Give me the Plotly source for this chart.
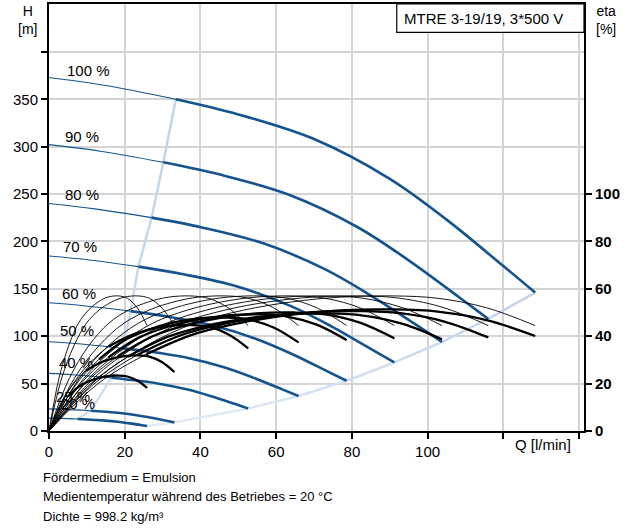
import plotly.graph_objects as go

# ---------------- data ----------------
speeds = ["100 %", "90 %", "80 %", "70 %", "60 %", "50 %", "40 %", "25 %", "20 %"]

# Q-H curves (Q [l/min], H [m]); the 3rd point of each list is the min-flow point
qh_q = {
    "100 %": [0, 15, 33.5, 50, 70, 90, 105, 120, 128.4],
    "90 %": [0, 13.5, 30.2, 45.2, 63.2, 81.3, 94.8, 108.4, 116.0],
    "80 %": [0, 12.1, 27.1, 40.4, 56.6, 72.7, 84.8, 97.0, 103.8],
    "70 %": [0, 10.7, 23.6, 35.5, 49.7, 63.9, 74.6, 85.2, 91.2],
    "60 %": [0, 9.2, 21.6, 30.6, 42.8, 55.1, 64.3, 73.4, 78.6],
    "50 %": [0, 7.7, 19.5, 25.7, 35.9, 46.2, 53.9, 61.6, 65.9],
    "40 %": [0, 6.2, 16.5, 20.5, 28.7, 36.9, 43.1, 49.2, 52.6],
    "25 %": [0, 3.9, 11.0, 12.9, 18.1, 23.2, 27.1, 31.0, 33.1],
    "20 %": [0, 3.0, 7.5, 10.1, 14.1, 18.2, 21.2, 24.2, 25.9],
}
qh_h = {
    "100 %": [373, 364.5, 350, 334, 308, 266, 223, 174, 146],
    "90 %": [302.1, 295.2, 283.5, 270.5, 249.5, 215.5, 180.6, 140.9, 118.3],
    "80 %": [240, 234.4, 225.1, 214.8, 198.0, 171.0, 143.4, 111.9, 93.9],
    "70 %": [184.6, 180.4, 173.4, 165.3, 152.5, 131.7, 110.4, 86.1, 72.3],
    "60 %": [135.3, 132.2, 126.5, 121.2, 111.8, 96.6, 81.0, 63.2, 53.0],
    "50 %": [94.2, 92.0, 87.2, 84.3, 77.8, 67.2, 56.3, 43.9, 36.9],
    "40 %": [60.8, 59.4, 56.1, 54.4, 50.2, 43.4, 36.3, 28.4, 23.8],
    "25 %": [23.3, 22.8, 21.4, 20.9, 19.3, 16.6, 13.9, 10.9, 9.1],
    "20 %": [13.6, 13.3, 12.6, 12.2, 11.2, 9.7, 8.1, 6.4, 5.3],
}
MIN_FLOW_IDX = 2

# Efficiency curves (Q [l/min], eta [%])
eta_q = {
    "100 %": [0, 12.8, 25.7, 38.5, 51.4, 64.2, 77.0, 91.2, 102.7, 115.6, 128.4],
    "90 %": [0, 11.6, 23.2, 34.8, 46.4, 58.0, 69.6, 82.4, 92.8, 104.4, 116.0],
    "80 %": [0, 10.4, 20.8, 31.1, 41.5, 51.9, 62.3, 73.7, 83.0, 93.4, 103.8],
    "70 %": [0, 9.1, 18.2, 27.4, 36.5, 45.6, 54.7, 64.8, 73.0, 82.1, 91.2],
    "60 %": [0, 7.9, 15.7, 23.6, 31.4, 39.3, 47.2, 55.8, 62.9, 70.7, 78.6],
    "50 %": [0, 6.6, 13.2, 19.8, 26.4, 33.0, 39.5, 46.8, 52.7, 59.3, 65.9],
    "40 %": [0, 5.3, 10.5, 15.8, 21.0, 26.3, 31.6, 37.3, 42.1, 47.3, 52.6],
    "25 %": [0, 3.3, 6.6, 9.9, 13.2, 16.6, 19.9, 23.5, 26.5, 29.8, 33.1],
    "20 %": [0, 2.6, 5.2, 7.8, 10.4, 13.0, 15.5, 18.4, 20.7, 23.3, 25.9],
}
eta_pump = [0, 22, 36, 45.5, 51, 54.5, 56.5, 57, 56, 52, 44.5]
eta_total = {
    "100 %": [0, 19.8, 32.4, 41.0, 45.9, 49.1, 50.9, 51.3, 50.4, 46.8, 40.1],
    "90 %": [0, 19.5, 32.0, 40.4, 45.3, 48.4, 50.2, 50.6, 49.7, 46.2, 39.5],
    "80 %": [0, 19.1, 31.3, 39.6, 44.4, 47.4, 49.2, 49.6, 48.7, 45.2, 38.7],
    "70 %": [0, 19.3, 31.6, 40.0, 44.8, 47.9, 49.6, 50.0, 49.2, 45.7, 39.1],
    "60 %": [0, 19.0, 31.1, 39.3, 44.0, 47.0, 48.8, 49.2, 48.3, 44.9, 38.4],
    "50 %": [0, 18.5, 30.2, 38.2, 42.8, 45.8, 47.5, 47.9, 47.0, 43.7, 37.4],
    "40 %": [0, 17.3, 28.3, 35.7, 40.0, 42.8, 44.4, 44.7, 44.0, 40.8, 34.9],
    "25 %": [0, 12.3, 20.2, 25.5, 28.6, 30.5, 31.6, 31.9, 31.4, 29.1, 24.9],
    "20 %": [0, 9.0, 14.8, 18.7, 20.9, 22.3, 23.2, 23.4, 23.0, 21.3, 18.2],
}

x_ticks = [0, 20, 40, 60, 80, 100, 120, 140]
x_ticklabels = ["0", "20", "40", "60", "80", "100", "", ""]
h_ticks = [0, 50, 100, 150, 200, 250, 300, 350, 400]
h_ticklabels = ["0", "50", "100", "150", "200", "250", "300", "350", ""]
eta_ticks = [0, 20, 40, 60, 80, 100]

title_text = "MTRE 3-19/19, 3*500 V"
notes = ["Fördermedium = Emulsion",
         "Medientemperatur während des Betriebes = 20 °C",
         "Dichte = 998.2 kg/m³"]

# label positions (layout)
label_pos_q = [4.2, 3.8, 3.6, 3.3, 2.9, 2.5, 2.0, 1.4, 2.6]
label_pos_h = [380, 311, 250, 195, 145, 106.5, 72, 36, 29]

# ---------------- figure ----------------
FONT = "Liberation Sans, Arial, sans-serif"
BLUE = "#15538f"
LIGHT_A = (232, 240, 249)   # pale end of the limit lines
LIGHT_B = (192, 210, 231)   # stronger end of the limit lines


def mix(t):
    c = [round(a + (b - a) * t) for a, b in zip(LIGHT_A, LIGHT_B)]
    return "rgb(%d,%d,%d)" % tuple(c)


fig = go.Figure()

# min / max flow limit lines (drawn segment by segment with a soft colour fade)
min_q = [qh_q[s][MIN_FLOW_IDX] for s in speeds][::-1]
min_h = [qh_h[s][MIN_FLOW_IDX] for s in speeds][::-1]
max_q = [qh_q[s][-1] for s in speeds][::-1]
max_h = [qh_h[s][-1] for s in speeds][::-1]
n = len(speeds) - 1
for i in range(n):
    fig.add_trace(go.Scatter(x=min_q[i:i + 2], y=min_h[i:i + 2], mode="lines",
                             line=dict(color=mix(0.55 + 0.45 * i / n), width=2.5),
                             hoverinfo="skip"))
    fig.add_trace(go.Scatter(x=max_q[i:i + 2], y=max_h[i:i + 2], mode="lines",
                             line=dict(color=mix(0.15 + 0.85 * i / n), width=2.5),
                             hoverinfo="skip"))

# efficiency curves
for s in speeds:
    q = eta_q[s]
    fig.add_trace(go.Scatter(x=q, y=eta_pump, yaxis="y2", mode="lines",
                             line=dict(color="black", width=0.9, shape="spline"),
                             hoverinfo="skip"))
    fig.add_trace(go.Scatter(x=q, y=eta_total[s], yaxis="y2", mode="lines",
                             line=dict(color="black", width=0.9, shape="spline"),
                             hoverinfo="skip"))
    qmin = qh_q[s][MIN_FLOW_IDX]
    start = max(i for i in range(len(q)) if q[i] <= qmin)
    fig.add_trace(go.Scatter(x=q[start:], y=eta_total[s][start:], yaxis="y2", mode="lines",
                             line=dict(color="black", width=2.3, shape="spline"),
                             hoverinfo="skip"))

# Q-H curves
for s in speeds:
    q, h = qh_q[s], qh_h[s]
    fig.add_trace(go.Scatter(x=q[:MIN_FLOW_IDX + 1], y=h[:MIN_FLOW_IDX + 1], mode="lines",
                             line=dict(color=BLUE, width=1.1, shape="spline"), hoverinfo="skip"))
    fig.add_trace(go.Scatter(x=q[MIN_FLOW_IDX:], y=h[MIN_FLOW_IDX:], mode="lines",
                             line=dict(color=BLUE, width=2.6, shape="spline"), hoverinfo="skip"))

annotations = []
for s, lq, lh in zip(speeds, label_pos_q, label_pos_h):
    annotations.append(dict(x=lq, y=lh, xref="x", yref="y", text=s, showarrow=False,
                            xanchor="left", yanchor="middle",
                            font=dict(family=FONT, size=15, color="black")))

annotations += [
    dict(x=0.813, y=0.967, xref="paper", yref="paper", text=title_text, showarrow=False,
         xanchor="center", yanchor="middle", font=dict(family=FONT, size=15, color="black")),
    dict(x=-0.041, y=0.963, xref="paper", yref="paper", text="H<br>[m]", showarrow=False,
         xanchor="center", yanchor="middle", font=dict(family=FONT, size=14, color="black")),
    dict(x=1.041, y=0.963, xref="paper", yref="paper", text="eta<br>[%]", showarrow=False,
         xanchor="center", yanchor="middle", font=dict(family=FONT, size=14, color="black")),
    dict(x=130.5, y=-0.031, xref="x", yref="paper", text="Q [l/min]", showarrow=False,
         xanchor="center", yanchor="middle", font=dict(family=FONT, size=15, color="black")),
]
for i, t in enumerate(notes):
    annotations.append(dict(x=-0.015, y=-0.108 - i * 0.0465, xref="paper", yref="paper",
                            text=t, showarrow=False, xanchor="left", yanchor="middle",
                            font=dict(family=FONT, size=13, color="black")))

fig.update_layout(
    width=635, height=529,
    margin=dict(l=49, r=51, t=4, b=98, autoexpand=False),
    paper_bgcolor="white", plot_bgcolor="white",
    showlegend=False,
    font=dict(family=FONT, size=15, color="black"),
    xaxis=dict(range=[0, 141.3], tickvals=x_ticks, ticktext=x_ticklabels,
               showgrid=True, gridcolor="#d2d4d6", gridwidth=1.5, zeroline=False,
               showline=True, linecolor="black", linewidth=2, mirror=True,
               ticks="outside", ticklen=6, tickwidth=2, tickcolor="black",
               tickfont=dict(family=FONT, size=15, color="black"), fixedrange=True),
    yaxis=dict(range=[0, 450.5], tickvals=h_ticks, ticktext=h_ticklabels,
               showgrid=True, gridcolor="#d2d4d6", gridwidth=1.5, zeroline=False,
               showline=True, linecolor="black", linewidth=2,
               ticks="outside", ticklen=6, tickwidth=2, tickcolor="black",
               tickfont=dict(family=FONT, size=15, color="black"), fixedrange=True),
    yaxis2=dict(range=[0, 180.2], overlaying="y", side="right", anchor="x",
                tickvals=eta_ticks, ticktext=["<b>%d</b>" % v for v in eta_ticks],
                showgrid=False, zeroline=False,
                showline=True, linecolor="black", linewidth=2,
                ticks="outside", ticklen=6, tickwidth=2, tickcolor="black",
                tickfont=dict(family=FONT, size=15, color="black"), fixedrange=True),
    shapes=[dict(type="rect", xref="paper", yref="paper", x0=0.65, x1=1.0, y0=0.9337, y1=1.0,
                 line=dict(color="black", width=1.2), fillcolor="white", layer="above")],
    annotations=annotations,
)

fig.write_html("out.html", config={"displayModeBar": False},
               post_script="document.body.style.margin='0';document.body.style.padding='0';")
